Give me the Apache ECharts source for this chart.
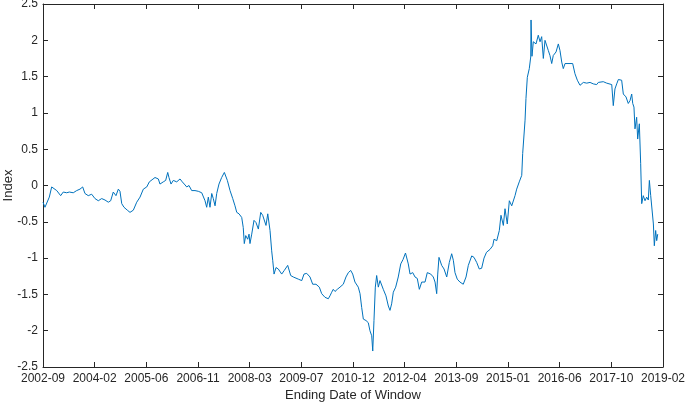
<!DOCTYPE html>
<html>
<head>
<meta charset="utf-8">
<script src="https://cdn.jsdelivr.net/npm/echarts@6/dist/echarts.min.js"></script>
<style>html,body{margin:0;padding:0;background:#fff}#c{width:685px;height:404px}</style>
</head>
<body>
<div id="c"></div>
<script>
// x tick labels (evenly spaced, every 500 days from 2002-09)
const tickLabels = ['2002-09','2004-02','2005-06','2006-11','2008-03','2009-07','2010-12','2012-04','2013-09','2015-01','2016-06','2017-10','2019-02'];
// days since start of window (2002-09)
const days = [0,19,36,61,84,100,133,171,196,229,255,293,326,358,384,406,438,471,503,535,568,600,632,655,680,706,729,745,762,784,816,842,874,907,939,971,1004,1029,1084,1116,1132,1164,1187,1207,1219,1239,1261,1294,1326,1348,1367,1391,1413,1439,1471,1503,1536,1568,1584,1600,1616,1633,1648,1665,1681,1703,1729,1755,1771,1784,1810,1836,1858,1875,1897,1923,1938,1948,1962,1981,1994,2003,2020,2042,2061,2084,2107,2126,2142,2158,2175,2197,2213,2223,2236,2255,2277,2310,2335,2368,2397,2422,2439,2471,2504,2526,2552,2584,2610,2642,2674,2697,2729,2761,2777,2794,2809,2826,2848,2874,2906,2932,2955,2978,2997,3019,3051,3068,3084,3100,3126,3148,3164,3181,3191,3203,3216,3229,3245,3261,3278,3293,3319,3342,3358,3374,3390,3413,3438,3462,3484,3508,3523,3535,3552,3578,3600,3622,3642,3665,3697,3719,3752,3777,3794,3810,3820,3832,3858,3881,3907,3932,3955,3971,3987,4009,4035,4067,4094,4116,4149,4171,4197,4222,4245,4268,4292,4326,4352,4365,4391,4416,4432,4455,4471,4493,4513,4536,4568,4584,4609,4633,4642,4655,4665,4674,4687,4706,4720,4723,4732,4745,4771,4793,4810,4826,4842,4858,4874,4890,4906,4923,4938,4965,4987,5003,5020,5035,5052,5068,5100,5126,5148,5171,5197,5229,5262,5294,5325,5358,5374,5422,5455,5471,5504,5519,5535,5552,5568,5600,5616,5642,5664,5681,5697,5707,5719,5729,5745,5755,5771,5784,5794,5809,5826,5842,5858,5868,5881,5897,5907,5916,5929,5939,5949];
// index values
const indexValues = [-0.23,-0.30,-0.28,-0.16,-0.02,-0.03,-0.07,-0.14,-0.09,-0.10,-0.09,-0.10,-0.07,-0.05,-0.02,-0.11,-0.14,-0.12,-0.18,-0.21,-0.18,-0.20,-0.23,-0.21,-0.09,-0.14,-0.05,-0.08,-0.25,-0.30,-0.34,-0.37,-0.34,-0.23,-0.16,-0.05,-0.02,0.05,0.11,0.09,0.02,0.05,0.07,0.18,0.11,0.02,0.07,0.05,0.09,0.05,0.02,-0.02,0.00,-0.07,-0.07,-0.08,-0.10,-0.21,-0.30,-0.16,-0.30,-0.11,-0.18,-0.28,-0.11,0.02,0.11,0.18,0.16,0.07,-0.07,-0.18,-0.28,-0.37,-0.39,-0.44,-0.58,-0.80,-0.69,-0.74,-0.67,-0.80,-0.67,-0.48,-0.51,-0.60,-0.37,-0.41,-0.39,-0.55,-0.39,-0.62,-0.90,-1.03,-1.22,-1.13,-1.15,-1.22,-1.17,-1.10,-1.24,-1.26,-1.26,-1.29,-1.31,-1.22,-1.21,-1.26,-1.36,-1.36,-1.40,-1.49,-1.54,-1.56,-1.52,-1.47,-1.43,-1.46,-1.43,-1.40,-1.36,-1.26,-1.20,-1.17,-1.22,-1.33,-1.40,-1.49,-1.68,-1.84,-1.86,-1.89,-2.00,-2.07,-2.28,-1.86,-1.40,-1.24,-1.40,-1.31,-1.33,-1.43,-1.52,-1.66,-1.72,-1.63,-1.47,-1.40,-1.26,-1.08,-1.02,-0.93,-0.95,-1.08,-1.22,-1.20,-1.26,-1.28,-1.43,-1.33,-1.33,-1.20,-1.22,-1.26,-1.33,-1.49,-1.22,-0.99,-1.10,-1.15,-1.26,-1.06,-0.94,-1.03,-1.20,-1.29,-1.33,-1.36,-1.26,-1.10,-0.97,-0.99,-1.06,-1.15,-1.14,-1.00,-0.92,-0.88,-0.83,-0.74,-0.76,-0.62,-0.41,-0.55,-0.32,-0.53,-0.21,-0.28,-0.14,-0.05,0.05,0.14,0.44,0.45,0.90,1.20,1.49,1.61,1.77,2.28,1.78,1.98,1.95,2.07,1.98,2.05,1.75,2.00,1.98,1.86,1.79,1.68,1.79,1.84,1.95,1.86,1.70,1.61,1.68,1.70,1.68,1.68,1.54,1.45,1.38,1.42,1.41,1.42,1.40,1.39,1.42,1.43,1.41,1.40,1.39,1.10,1.33,1.40,1.46,1.45,1.26,1.22,1.13,1.17,1.26,1.13,1.08,0.78,0.94,0.64,0.85,0.30,-0.25,-0.14,-0.21,-0.16,-0.20,0.07,-0.14,-0.16,-0.53,-0.83,-0.62,-0.76,-0.67];

const seriesData = days.map((d, i) => [d, indexValues[i]]);
const axisColor = '#262626';
const font = 'Liberation Sans, Arial, Helvetica, sans-serif';

const chart = echarts.init(document.getElementById('c'), null, {renderer: 'canvas'});
chart.setOption({
  animation: false,
  backgroundColor: '#ffffff',
  grid: {left: 43, right: 22, top: 4, bottom: 37, containLabel: false, outerBoundsMode: 'none'},
  xAxis: [{
    type: 'value', min: 0, max: 6000, interval: 500, position: 'bottom',
    name: 'Ending Date of Window', nameLocation: 'middle', nameGap: 22, nameMoveOverlap: false,
    nameTextStyle: {color: axisColor, fontSize: 13, fontFamily: font},
    axisLine: {show: true, onZero: false, lineStyle: {color: axisColor, width: 1}},
    axisTick: {show: true, inside: true, length: 5, lineStyle: {color: axisColor}},
    axisLabel: {color: axisColor, fontSize: 12, fontFamily: font, margin: 6,
      formatter: v => tickLabels[Math.round(v / 500)] || ''},
    splitLine: {show: false}
  }, {
    type: 'value', min: 0, max: 6000, interval: 500, position: 'top',
    axisLine: {show: true, onZero: false, lineStyle: {color: axisColor, width: 1}},
    axisTick: {show: true, inside: true, length: 5, lineStyle: {color: axisColor}},
    axisLabel: {show: false}, splitLine: {show: false}
  }],
  yAxis: [{
    type: 'value', min: -2.5, max: 2.5, interval: 0.5, position: 'left',
    name: 'Index', nameLocation: 'middle', nameGap: 28, nameRotate: 90, nameMoveOverlap: false,
    nameTextStyle: {color: axisColor, fontSize: 13, fontFamily: font},
    axisLine: {show: true, onZero: false, lineStyle: {color: axisColor, width: 1}},
    axisTick: {show: true, inside: true, length: 5, lineStyle: {color: axisColor}},
    axisLabel: {color: axisColor, fontSize: 12, fontFamily: font, margin: 5},
    splitLine: {show: false}
  }, {
    type: 'value', min: -2.5, max: 2.5, interval: 0.5, position: 'right',
    axisLine: {show: true, onZero: false, lineStyle: {color: axisColor, width: 1}},
    axisTick: {show: true, inside: true, length: 5, lineStyle: {color: axisColor}},
    axisLabel: {show: false}, splitLine: {show: false}
  }],
  series: [{
    type: 'line', xAxisIndex: 0, yAxisIndex: 0,
    data: seriesData, showSymbol: false, symbol: 'none',
    lineStyle: {color: '#0072BD', width: 1}
  }]
});
</script>
</body>
</html>
